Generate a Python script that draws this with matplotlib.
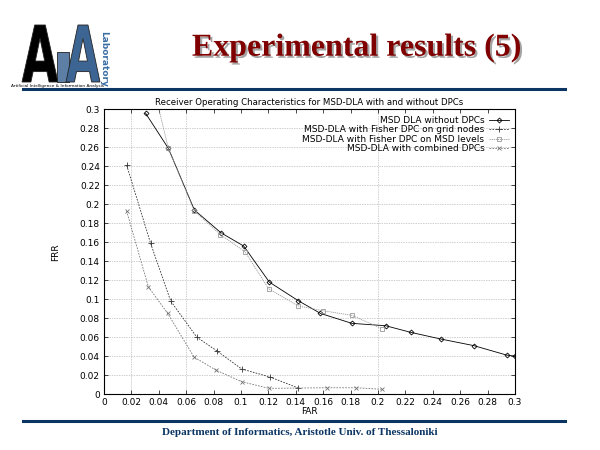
import numpy as np
import matplotlib.pyplot as plt
import matplotlib.patheffects as pe
from matplotlib.textpath import TextPath
from matplotlib.patches import PathPatch
from matplotlib.font_manager import FontProperties
from matplotlib.transforms import Affine2D, IdentityTransform

# ROC data (FAR, FRR)
far_plain = [0.0304, 0.047, 0.066, 0.0854, 0.102, 0.1207, 0.1418, 0.158, 0.181,
             0.2056, 0.224, 0.2458, 0.270, 0.294, 0.30]
frr_plain = [0.296, 0.259, 0.194, 0.170, 0.156, 0.118, 0.0984, 0.085, 0.0745,
             0.072, 0.065, 0.058, 0.051, 0.041, 0.040]

far_grid = [0.0166, 0.034, 0.0487, 0.0677, 0.0825, 0.1005, 0.121, 0.1414]
frr_grid = [0.241, 0.159, 0.098, 0.060, 0.0454, 0.0264, 0.018, 0.0066]

far_levels = [0.036, 0.047, 0.066, 0.085, 0.103, 0.1202, 0.1418, 0.160, 0.181, 0.2027]
frr_levels = [0.325, 0.259, 0.193, 0.168, 0.150, 0.111, 0.0928, 0.0878, 0.083, 0.069]

far_comb = [0.0165, 0.0324, 0.0465, 0.0657, 0.082, 0.1005, 0.1204, 0.1625, 0.1837, 0.203]
frr_comb = [0.193, 0.113, 0.085, 0.039, 0.025, 0.013, 0.006, 0.0066, 0.0066, 0.005]

labels = ['MSD DLA without DPCs',
          'MSD-DLA with Fisher DPC on grid nodes',
          'MSD-DLA with Fisher DPC on MSD levels',
          'MSD-DLA with combined DPCs']

xticks = np.arange(0, 0.301, 0.02)
yticks = np.arange(0, 0.301, 0.02)

navy = '#0b3563'

fig = plt.figure(figsize=(6, 4.5), dpi=100)
H = 450


def logo_letter(ch, x0, top, w, h, color):
    # squeeze a bold glyph into a pixel box (top measured from the top edge)
    tp = TextPath((0, 0), ch, size=1, prop=FontProperties(family='DejaVu Sans', weight='bold'))
    ext = tp.get_extents()
    tr = (Affine2D().translate(-ext.x0, -ext.y0)
          .scale(w / ext.width, h / ext.height)
          .translate(x0, H - top - h))
    fig.add_artist(PathPatch(tr.transform_path(tp), facecolor=color, edgecolor='#222222',
                             lw=0.6, transform=IdentityTransform()))


# logo
logo_letter('A', 22, 25, 36, 57, 'black')
logo_letter('I', 57, 52, 12, 30, '#5d7fa6')
logo_letter('A', 66, 25, 34, 57, '#3d6593')
fig.text(0.172, 0.87, 'Laboratory', fontsize=6.5, fontweight='bold', color='#3a6ea5',
         rotation=270, va='center', ha='center')
fig.text(0.018, 0.81, 'Artificial Intelligence & Information Analysis', fontsize=3.1,
         color='black', va='center', ha='left')

# slide title with drop shadow
fig.text(0.595, 0.893, 'Experimental results (5)', fontsize=23, fontweight='bold',
         family='Liberation Serif', color='#800000', ha='center', va='center',
         path_effects=[pe.withSimplePatchShadow(offset=(1.5, -1.5), shadow_rgbFace='#9a9a9a',
                                                alpha=0.9)])
fig.add_artist(plt.Line2D([0.038, 0.942], [0.802, 0.802], color=navy, lw=2.2))
fig.add_artist(plt.Line2D([0.038, 0.942], [0.0644, 0.0644], color=navy, lw=2.2))
fig.text(0.5, 0.038, 'Department of Informatics, Aristotle Univ. of Thessaloniki',
         fontsize=8, fontweight='bold', family='Liberation Serif', color=navy,
         ha='center', va='center')

ax = fig.add_axes([0.1733, 0.1244, 0.685, 0.6323])
ax.plot(far_plain, frr_plain, color='black', lw=0.6, marker='D', ms=2.5,
        mfc='none', mew=0.6, label=labels[0])
ax.plot(far_grid, frr_grid, color='#333333', lw=0.6, ls=(0, (2, 1.5)), marker='+',
        ms=4, mew=0.6, label=labels[1])
ax.plot(far_levels, frr_levels, color='#999999', lw=0.6, ls=(0, (1.5, 1)), marker='s',
        ms=3, mfc='none', mew=0.6, label=labels[2])
ax.plot(far_comb, frr_comb, color='#777777', lw=0.6, ls=(0, (2, 1.5)), marker='x',
        ms=3, mew=0.6, label=labels[3])

for y in yticks[1:-1]:
    ax.axhline(y, color='#bbbbbb', lw=0.5, ls=(0, (2, 1.5)), zorder=0)
for x in [0.02, 0.06, 0.2]:
    ax.axvline(x, color='#bbbbbb', lw=0.5, ls=(0, (2, 1.5)), zorder=0)

ax.set_xlim(0, 0.3)
ax.set_ylim(0, 0.3)
ax.set_xticks(xticks)
ax.set_yticks(yticks)
ax.set_xticklabels(['%g' % round(v, 2) for v in xticks], fontsize=6.5)
ax.set_yticklabels(['%g' % round(v, 2) for v in yticks], fontsize=6.5)
ax.tick_params(direction='in', top=True, right=True, length=3, width=0.5, pad=3)
for s in ax.spines.values():
    s.set_linewidth(0.8)
ax.set_xlabel('FAR', fontsize=6.5, labelpad=0)
ax.set_ylabel('FRR', fontsize=6.5, labelpad=14)
ax.set_title('Receiver Operating Characteristics for MSD-DLA with and without DPCs',
             fontsize=6.2, pad=3)
ax.legend(loc='upper right', markerfirst=False, frameon=False, fontsize=6.5,
          handlelength=2.2, labelspacing=0.05, borderaxespad=0.3, handletextpad=0.5,
          alignment='right')

fig.savefig('out.png', dpi=100)
